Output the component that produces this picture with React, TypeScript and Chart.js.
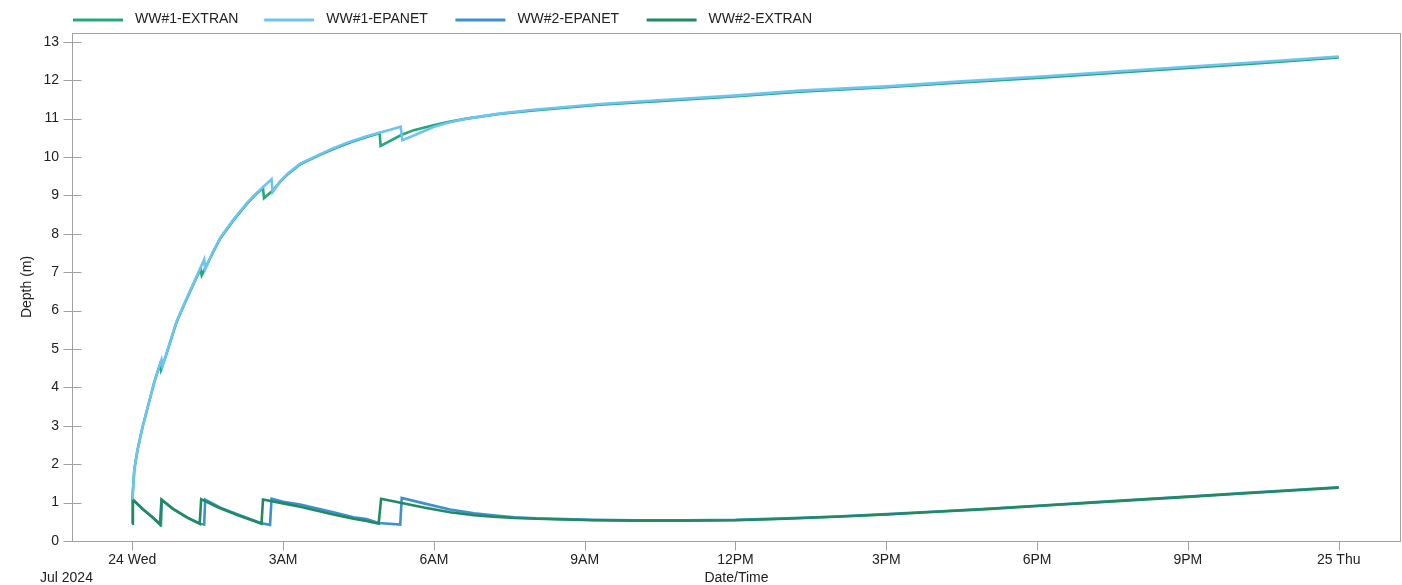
import { useEffect, useRef } from "react";
import { Chart, registerables } from "chart.js";

Chart.register(...registerables);

// Series names and colours, in legend order
const SERIES_LABELS = ["WW#1-EXTRAN", "WW#1-EPANET", "WW#2-EPANET", "WW#2-EXTRAN"];
const SERIES_COLORS = ["#24a878", "#6ec3ef", "#3c91d3", "#218a5e"];

// Time axis: hours after midnight, Jul 24 2024
const TIME_TICKS = [0, 3, 6, 9, 12, 15, 18, 21, 24];
const TIME_LABELS = ["24 Wed", "3AM", "6AM", "9AM", "12PM", "3PM", "6PM", "9PM", "25 Thu"];
const DEPTH_TICKS = [0, 1, 2, 3, 4, 5, 6, 7, 8, 9, 10, 11, 12, 13];

const X_TITLE = "Date/Time";
const Y_TITLE = "Depth (m)";
const DATE_CAPTION = "Jul 2024";

// [hour, depth m]
const WW1_EXTRAN: [number, number][] = [
  [0, 1.08], [0.04, 1.86], [0.1, 2.35], [0.2, 2.95], [0.3, 3.45], [0.44, 4.15], [0.55, 4.6],
  [0.57, 4.45], [0.7, 4.95], [0.88, 5.7], [1.0, 6.06], [1.15, 6.5], [1.3, 6.92], [1.36, 7.08],
  [1.38, 6.92], [1.45, 7.1], [1.6, 7.5], [1.75, 7.88], [2.0, 8.33], [2.14, 8.56], [2.3, 8.81],
  [2.47, 9.04], [2.6, 9.19], [2.62, 8.93], [2.79, 9.12], [2.95, 9.37], [3.1, 9.56], [3.34, 9.81],
  [3.7, 10.04], [4.0, 10.21], [4.33, 10.38], [4.66, 10.52], [4.92, 10.62], [4.94, 10.29],
  [5.36, 10.58], [5.6, 10.7], [5.99, 10.83], [6.3, 10.92], [6.65, 11.0], [7.3, 11.12],
  [7.98, 11.21], [9.3, 11.36], [10.63, 11.47], [11.96, 11.58], [13.28, 11.7], [15, 11.82],
  [16.5, 11.94], [18, 12.06], [19.5, 12.19], [21, 12.32], [22.5, 12.45], [24, 12.59],
];

const WW1_EPANET: [number, number][] = [
  [0, 1.08], [0.04, 1.86], [0.1, 2.35], [0.2, 2.95], [0.3, 3.45], [0.44, 4.15], [0.58, 4.72],
  [0.6, 4.55], [0.7, 4.98], [0.88, 5.72], [1.0, 6.08], [1.15, 6.52], [1.3, 6.95], [1.43, 7.33],
  [1.45, 7.08], [1.6, 7.52], [1.75, 7.9], [2.0, 8.35], [2.14, 8.58], [2.3, 8.83], [2.47, 9.06],
  [2.6, 9.22], [2.77, 9.42], [2.79, 9.08], [2.95, 9.38], [3.1, 9.58], [3.34, 9.83], [3.7, 10.05],
  [4.0, 10.23], [4.33, 10.4], [4.66, 10.54], [4.93, 10.64], [5.15, 10.72], [5.34, 10.79],
  [5.37, 10.44], [5.6, 10.56], [5.99, 10.78], [6.3, 10.9], [6.65, 11.0], [7.3, 11.13],
  [7.98, 11.23], [9.3, 11.38], [10.63, 11.49], [11.96, 11.6], [13.28, 11.73], [15, 11.84],
  [16.5, 11.97], [18, 12.09], [19.5, 12.22], [21, 12.35], [22.5, 12.48], [24, 12.62],
];

const WW2_EPANET: [number, number][] = [
  [0, 0.45], [0.01, 1.08], [0.2, 0.84], [0.4, 0.62], [0.57, 0.43], [0.59, 1.07], [0.8, 0.85],
  [1.1, 0.61], [1.35, 0.45], [1.43, 0.43], [1.45, 1.08], [1.75, 0.87], [2.1, 0.69], [2.57, 0.46],
  [2.74, 0.42], [2.77, 1.1], [3.0, 1.02], [3.34, 0.95], [4.0, 0.75], [4.4, 0.62], [4.66, 0.57],
  [4.9, 0.47], [5.33, 0.43], [5.36, 1.12], [5.8, 0.98], [6.32, 0.82], [6.8, 0.72], [7.18, 0.67],
  [7.6, 0.62], [8.04, 0.59], [8.6, 0.57], [9.17, 0.55], [10, 0.54], [11, 0.54], [12, 0.55],
  [13, 0.59], [14, 0.64], [15, 0.7], [16, 0.77], [17, 0.84], [18, 0.92], [19, 1.0], [20, 1.08],
  [21, 1.16], [22, 1.24], [23, 1.32], [24, 1.4],
];

const WW2_EXTRAN: [number, number][] = [
  [0, 0.45], [0.01, 1.08], [0.2, 0.84], [0.4, 0.62], [0.55, 0.43], [0.58, 1.08], [0.8, 0.84],
  [1.1, 0.6], [1.34, 0.45], [1.37, 1.09], [1.7, 0.88], [2.1, 0.67], [2.57, 0.45], [2.6, 1.08],
  [3.0, 0.98], [3.34, 0.89], [4.0, 0.69], [4.4, 0.58], [4.66, 0.52], [4.9, 0.45], [4.95, 1.1],
  [5.36, 0.99], [5.8, 0.87], [6.32, 0.75], [6.8, 0.67], [7.18, 0.63], [7.6, 0.6], [8.04, 0.58],
  [8.6, 0.56], [9.17, 0.54], [10, 0.53], [11, 0.53], [12, 0.54], [13, 0.58], [14, 0.63],
  [15, 0.69], [16, 0.76], [17, 0.83], [18, 0.91], [19, 0.99], [20, 1.07], [21, 1.15],
  [22, 1.23], [23, 1.31], [24, 1.39],
];

const SERIES_DATA = [WW1_EXTRAN, WW1_EPANET, WW2_EPANET, WW2_EXTRAN];
// lower order is painted on top
const SERIES_ORDER = [2, 1, 4, 3];

const FONT = "'Liberation Sans', Arial, sans-serif";
const TEXT_COLOR = "#222";
const FRAME_COLOR = "#a0a0a0";

export default function App() {
  const canvasRef = useRef<HTMLCanvasElement>(null);

  useEffect(() => {
    document.body.style.margin = "0";
    const canvas = canvasRef.current;
    if (!canvas) return;

    const decorations = {
      id: "decorations",
      afterDraw(chart: any) {
        const { ctx, chartArea: a, scales } = chart;
        const xs = scales.x;
        const ys = scales.y;
        ctx.save();

        // plot frame
        ctx.strokeStyle = FRAME_COLOR;
        ctx.lineWidth = 1;
        const l = Math.round(a.left) + 0.5;
        const t = Math.round(a.top) + 0.5;
        const r = Math.round(a.right) - 0.5;
        const b = Math.round(a.bottom) + 0.5;
        ctx.strokeRect(l, t, r - l, b - t);

        // tick marks
        ctx.beginPath();
        DEPTH_TICKS.forEach((v) => {
          const py = Math.round(ys.getPixelForValue(v)) + 0.5;
          ctx.moveTo(l - 9, py);
          ctx.lineTo(l + 9, py);
        });
        TIME_TICKS.forEach((v) => {
          const px = Math.round(xs.getPixelForValue(v)) + 0.5;
          ctx.moveTo(px, b);
          ctx.lineTo(px, b + 9);
        });
        ctx.stroke();

        // axis titles
        ctx.fillStyle = TEXT_COLOR;
        ctx.font = `14px ${FONT}`;
        ctx.textBaseline = "middle";
        ctx.textAlign = "center";
        ctx.fillText(X_TITLE, (a.left + a.right) / 2, 578);
        ctx.textAlign = "left";
        ctx.fillText(DATE_CAPTION, 40, 578);
        ctx.save();
        ctx.translate(27, (a.top + a.bottom) / 2);
        ctx.rotate(-Math.PI / 2);
        ctx.textAlign = "center";
        ctx.fillText(Y_TITLE, 0, 0);
        ctx.restore();

        // legend
        SERIES_LABELS.forEach((label, i) => {
          const x0 = 73 + i * 191.2;
          ctx.strokeStyle = SERIES_COLORS[i];
          ctx.lineWidth = 3;
          ctx.beginPath();
          ctx.moveTo(x0, 20);
          ctx.lineTo(x0 + 50, 20);
          ctx.stroke();
          ctx.fillStyle = TEXT_COLOR;
          ctx.textAlign = "left";
          ctx.fillText(label, x0 + 62, 19);
        });

        ctx.restore();
      },
    };

    const chart = new Chart(canvas, {
      type: "line",
      data: {
        datasets: SERIES_LABELS.map((label, i) => ({
          label,
          data: SERIES_DATA[i].map(([x, y]) => ({ x, y })),
          borderColor: SERIES_COLORS[i],
          backgroundColor: SERIES_COLORS[i],
          borderWidth: 2.6,
          pointRadius: 0,
          tension: 0,
          fill: false,
          order: SERIES_ORDER[i],
        })),
      },
      options: {
        responsive: false,
        animation: false,
        layout: { padding: { top: 33, right: 1, left: 0, bottom: 0 } },
        plugins: {
          legend: { display: false },
          tooltip: { enabled: false },
        },
        scales: {
          x: {
            type: "linear",
            min: -1.2,
            max: 25.24,
            grid: { display: false, drawTicks: false },
            border: { display: false },
            afterBuildTicks: (scale: any) => {
              scale.ticks = TIME_TICKS.map((value) => ({ value }));
            },
            afterFit: (scale: any) => {
              scale.height = 44;
            },
            ticks: {
              autoSkip: false,
              maxRotation: 0,
              padding: 11,
              color: TEXT_COLOR,
              font: { family: FONT, size: 14 },
              callback: (value: any) => {
                const idx = TIME_TICKS.indexOf(Number(value));
                return idx >= 0 ? TIME_LABELS[idx] : "";
              },
            },
          },
          y: {
            type: "linear",
            min: 0,
            max: 13.23,
            grid: { display: false, drawTicks: false },
            border: { display: false },
            afterBuildTicks: (scale: any) => {
              scale.ticks = DEPTH_TICKS.map((value) => ({ value }));
            },
            afterFit: (scale: any) => {
              scale.width = 72;
            },
            ticks: {
              padding: 13,
              color: TEXT_COLOR,
              font: { family: FONT, size: 14 },
              callback: (value: any) => String(value),
            },
          },
        },
      },
      plugins: [decorations],
    });

    return () => chart.destroy();
  }, []);

  return (
    <div style={{ width: 1402, height: 585 }}>
      <canvas ref={canvasRef} width={1402} height={585} style={{ display: "block" }} />
    </div>
  );
}
